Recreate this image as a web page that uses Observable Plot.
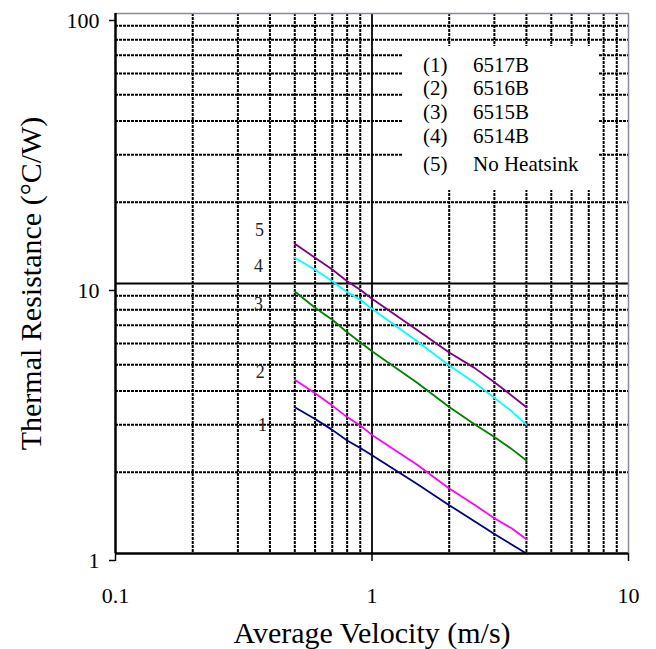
<!DOCTYPE html>
<html><head><meta charset="utf-8">
<script src="https://cdn.jsdelivr.net/npm/d3@7"></script>
<script src="https://cdn.jsdelivr.net/npm/@observablehq/plot@0.6"></script>
<style>body{margin:0;background:#fff} svg text{font-family:'Liberation Serif','Times New Roman',serif}</style>
</head><body><div id="chart"></div>
<script>
// Data
const velocity = [0.5, 0.6, 0.7, 0.8, 0.9, 1, 1.5, 2, 2.5, 3, 3.5, 4];
const s1 = [3.48, 3.15, 2.87, 2.62, 2.46, 2.31, 1.81, 1.51, 1.32, 1.18, 1.08, 1.0];
const s2 = [4.40, 3.92, 3.53, 3.20, 2.98, 2.75, 2.13, 1.74, 1.52, 1.35, 1.24, 1.13];
const s3 = [9.34, 8.13, 7.34, 6.60, 6.06, 5.61, 4.29, 3.49, 3.02, 2.70, 2.44, 2.21];
const s4 = [12.45, 11.24, 10.2, 9.29, 8.70, 8.06, 6.11, 4.97, 4.31, 3.77, 3.37, 3.00];
const s5 = [14.03, 12.45, 11.27, 10.2, 9.48, 8.78, 6.72, 5.55, 4.88, 4.31, 3.85, 3.48];
const seriesIds = ["1", "2", "3", "4", "5"];
const seriesNames = ["6517B", "6516B", "6515B", "6514B", "No Heatsink"];
const seriesColors = ["#000080", "#ff00ff", "#008000", "#00ffff", "#800080"];
const labelX = [0.374, 0.367, 0.361, 0.361, 0.364];
const labelY = [2.98, 4.68, 8.36, 11.6, 15.7];
const xTicks = [0.1, 1, 10];
const yTicks = [1, 10, 100];
const xMinor = [0.2, 0.3, 0.4, 0.5, 0.6, 0.7, 0.8, 0.9, 2, 3, 4, 5, 6, 7, 8, 9];
const yMinor = [2, 3, 4, 5, 6, 7, 8, 9, 20, 30, 40, 50, 60, 70, 80, 90];
const xTitle = "Average Velocity (m/s)";
const yTitle = "Thermal Resistance (°C/W)";

const allSeries = [s1, s2, s3, s4, s5];
const rows = [];
allSeries.forEach((vals, i) => vals.forEach((v, j) => rows.push({id: seriesIds[i], x: velocity[j], y: v})));
const labels = seriesIds.map((id, i) => ({id, x: labelX[i], y: labelY[i]}));

const FONT = "'Liberation Serif', 'Times New Roman', serif";

function legend(index, scales, values, dims) {
  const g = d3.create("svg:g").attr("text-anchor", "start");
  const fx = dims.width - dims.marginRight; // frame right
  const ft = dims.marginTop;
  g.append("rect").attr("x", fx - 225).attr("y", ft + 33).attr("width", 195).attr("height", 144).attr("fill", "white");
  const baselines = [59, 82, 106, 130, 157.5];
  seriesIds.forEach((id, i) => {
    g.append("text").attr("x", fx - 205).attr("y", ft + baselines[i])
      .style("font-size", "21px").style("font-family", FONT).attr("fill", "black").attr("text-anchor", "start").text(`(${id})`);
    g.append("text").attr("x", fx - 155).attr("y", ft + baselines[i])
      .style("font-size", "21px").style("font-family", FONT).attr("fill", "black").attr("text-anchor", "start").text(seriesNames[i]);
  });
  return g.node();
}

const chart = Plot.plot({
  width: 656,
  height: 649,
  marginLeft: 115,
  marginRight: 28,
  marginTop: 13,
  marginBottom: 96,
  style: {fontFamily: FONT, background: "white", color: "black"},
  x: {type: "log", domain: [0.1, 10]},
  y: {type: "log", domain: [1, 100]},
  color: {domain: seriesIds, range: seriesColors},
  marks: [
    Plot.ruleX(xMinor, {stroke: "black", strokeWidth: 2, strokeDasharray: "3,1"}),
    Plot.ruleY(yMinor, {stroke: "black", strokeWidth: 2, strokeDasharray: "3,1"}),
    Plot.ruleX([1], {stroke: "black", strokeWidth: 1.8}),
    Plot.ruleY([10], {stroke: "black", strokeWidth: 1.8}),
    Plot.ruleY([100], {stroke: "#8a8a9a", strokeWidth: 1.5}),
    Plot.ruleX([10], {stroke: "#8a8a9a", strokeWidth: 1.5}),
    legend,
    Plot.line(rows, {x: "x", y: "y", z: "id", stroke: "id", strokeWidth: 1.8}),
    Plot.text(labels, {x: "x", y: "y", text: "id", fontSize: 18, fill: "#222", fontFamily: FONT}),
    Plot.ruleX([0.1], {stroke: "black", strokeWidth: 2.5}),
    Plot.ruleY([1], {stroke: "black", strokeWidth: 2.5}),
    Plot.axisX(xTicks, {tickSize: 8, tickPadding: 26, fontSize: 22, tickFormat: d => String(d), label: null, strokeWidth: 1.5}),
    Plot.axisY(yTicks, {tickSize: 6, tickPadding: 10, fontSize: 22, dy: 7, tickFormat: d => String(d), label: null, strokeWidth: 1.5}),
    Plot.text([xTitle], {frameAnchor: "bottom", dy: 80, fontSize: 30, lineAnchor: "middle", textAnchor: "middle", fill: "black", fontFamily: FONT}),
    Plot.text([yTitle], {frameAnchor: "left", dx: -84, rotate: -90, fontSize: 30, lineAnchor: "middle", textAnchor: "middle", fill: "black", fontFamily: FONT})
  ]
});
document.getElementById("chart").appendChild(chart);
</script>
</body></html>
